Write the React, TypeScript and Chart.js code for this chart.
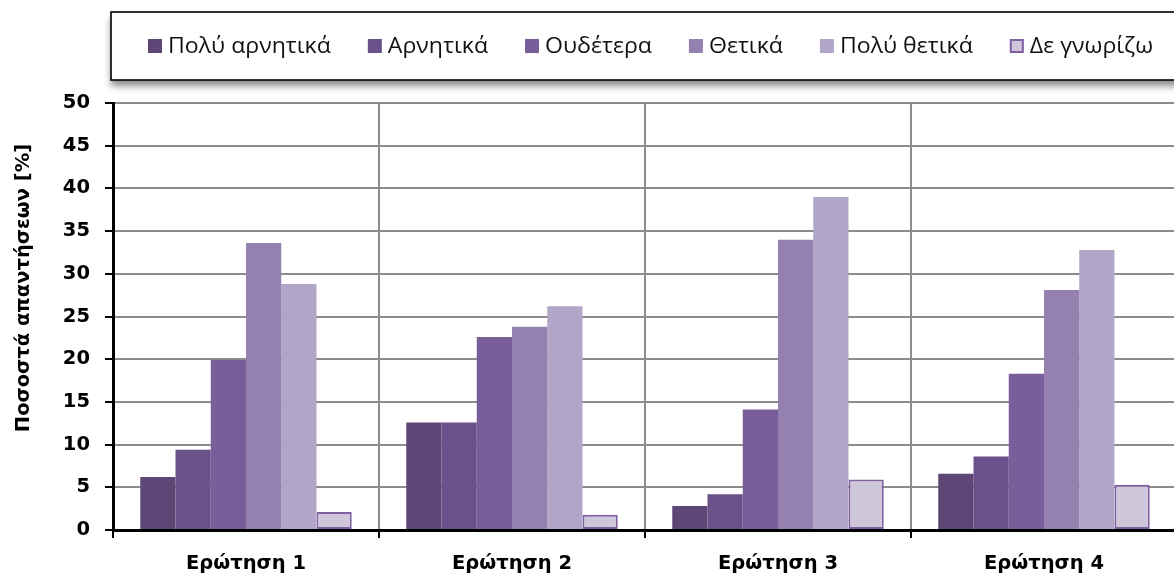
import React, { useEffect, useRef } from "react";
import { Chart, registerables } from "chart.js";

Chart.register(...registerables);

const categories = ["Ερώτηση 1", "Ερώτηση 2", "Ερώτηση 3", "Ερώτηση 4"];
const seriesNames = ["Πολύ αρνητικά", "Αρνητικά", "Ουδέτερα", "Θετικά", "Πολύ θετικά", "Δε γνωρίζω"];
const veryNegative = [6.2, 12.6, 2.8, 6.6];
const negative = [9.4, 12.6, 4.2, 8.6];
const neutral = [19.9, 22.6, 14.1, 18.3];
const positive = [33.6, 23.8, 34.0, 28.1];
const veryPositive = [28.8, 26.2, 39.0, 32.8];
const dontKnow = [2.1, 1.8, 5.9, 5.3];
const yMin = 0;
const yMax = 50;
const yStep = 5;
const yTitle = "Ποσοστά απαντήσεων [%]";

const fills = ["#5E4777", "#6B5189", "#7A5E9A", "#9581AF", "#B1A6C7", "#CEC7DC"];
const borders = ["#5E4777", "#6B5189", "#7A5E9A", "#9581AF", "#B1A6C7", "#7E5FA0"];
const borderWidths = [0, 0, 0, 0, 0, 2];

const W = 1178;
const H = 576;

const decorPlugin = {
  id: "decor",
  afterDraw(chart: any) {
    const ctx = chart.ctx as CanvasRenderingContext2D;
    // legend box
    ctx.save();
    ctx.shadowColor = "rgba(0,0,0,0.45)";
    ctx.shadowBlur = 7;
    ctx.shadowOffsetX = 0;
    ctx.shadowOffsetY = 6;
    ctx.fillStyle = "#ffffff";
    ctx.fillRect(111, 12, 1100, 68);
    ctx.restore();
    ctx.save();
    ctx.strokeStyle = "#000000";
    ctx.lineWidth = 1.6;
    ctx.strokeRect(111, 12, 1100, 68);
    ctx.font = '22px "Open Sans"';
    ctx.textBaseline = "middle";
    ctx.textAlign = "left";
    const sx = 1.05;
    let x = 148;
    const cy = 46;
    chart.data.datasets.forEach((ds: any) => {
      const bw = ds.borderWidth || 0;
      ctx.fillStyle = ds.backgroundColor;
      ctx.fillRect(x, cy - 7, 14, 14);
      if (bw > 0) {
        ctx.strokeStyle = ds.borderColor;
        ctx.lineWidth = 2;
        ctx.strokeRect(x + 1, cy - 6, 12, 12);
      }
      ctx.fillStyle = "#111111";
      const tw = ctx.measureText(ds.label).width * sx;
      ctx.save();
      ctx.translate(x + 20, cy + 1);
      ctx.scale(sx, 1);
      ctx.fillText(ds.label, 0, 0);
      ctx.restore();
      x += 20 + tw + 37;
    });
    ctx.restore();
    // y axis title
    ctx.save();
    ctx.translate(24, 288);
    ctx.rotate(-Math.PI / 2);
    ctx.font = 'bold 19.5px "DejaVu Sans"';
    ctx.fillStyle = "#000000";
    ctx.textAlign = "center";
    ctx.textBaseline = "middle";
    ctx.fillText(yTitle, 0, 0);
    ctx.restore();
  },
};

export default function App() {
  const ref = useRef<HTMLCanvasElement | null>(null);
  useEffect(() => {
    if (!ref.current) return;
    const series = [veryNegative, negative, neutral, positive, veryPositive, dontKnow];
    const chart = new Chart(ref.current, {
      type: "bar",
      data: {
        labels: categories,
        datasets: series.map((d, i) => ({
          label: seriesNames[i],
          data: d,
          backgroundColor: fills[i],
          borderColor: borders[i],
          borderWidth: borderWidths[i],
          borderSkipped: false,
          categoryPercentage: 0.795,
          barPercentage: 1,
        })),
      },
      options: {
        responsive: false,
        animation: false,
        devicePixelRatio: 1,
        layout: { padding: { top: 103, left: 0, right: 1, bottom: 0 } },
        plugins: {
          legend: { display: false },
          tooltip: { enabled: false },
          title: { display: false },
        },
        scales: {
          x: {
            z: 1,
            offset: true,
            grid: {
              offset: true,
              color: "#8c8c8c",
              lineWidth: 2,
              tickLength: 8,
              tickColor: "#000000",
              tickWidth: 2,
            },
            border: { display: true, color: "#000000", width: 3 },
            ticks: {
              color: "#000000",
              padding: 14,
              font: { family: "DejaVu Sans", size: 19.5, weight: "bold" },
            },
            afterFit(scale: any) {
              scale.height = 46;
            },
          },
          y: {
            min: yMin,
            max: yMax,
            grid: {
              color: "#8c8c8c",
              lineWidth: 2,
              tickLength: 8,
              tickColor: "#000000",
              tickWidth: 2,
            },
            border: { display: true, color: "#000000", width: 3 },
            ticks: {
              stepSize: yStep,
              color: "#000000",
              padding: 15,
              font: { family: "DejaVu Sans", size: 19.5, weight: "bold" },
            },
            afterFit(scale: any) {
              scale.width = 113;
            },
          },
        },
      },
      plugins: [decorPlugin],
    });
    return () => chart.destroy();
  }, []);
  return (
    <div
      style={{
        position: "fixed",
        left: 0,
        top: 0,
        width: 1174,
        height: 576,
        overflow: "hidden",
        background: "#ffffff",
      }}
    >
      <canvas ref={ref} width={W} height={H} style={{ width: W, height: H, display: "block" }} />
    </div>
  );
}
